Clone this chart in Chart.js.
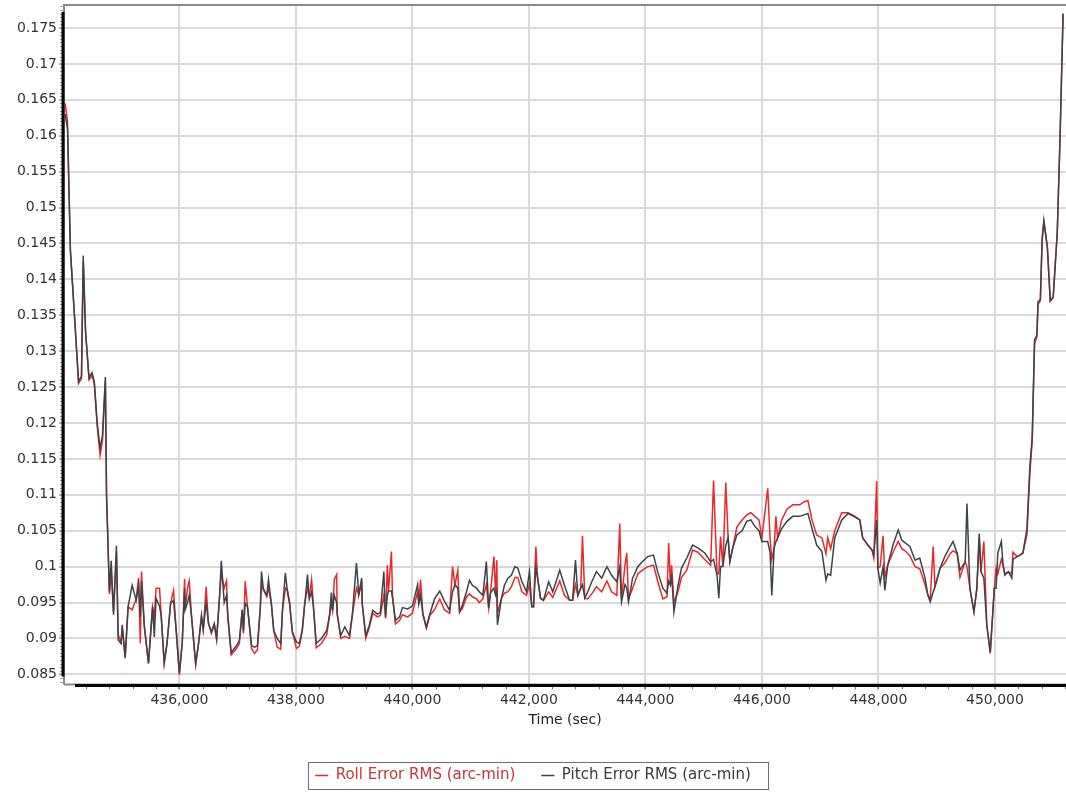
<!DOCTYPE html>
<html>
<head>
<meta charset="utf-8">
<title>Roll / Pitch Error RMS</title>
<script src="https://cdn.jsdelivr.net/npm/chart.js@4.4.1/dist/chart.umd.min.js"></script>
<style>
  html, body { margin: 0; padding: 0; background: #fff; }
  #wrap { width: 1066px; height: 794px; }
</style>
</head>
<body>
<div id="wrap"><canvas id="rmsChart" width="1066" height="794"></canvas></div>
<script>
// time stamps (sec)
const timeSec = [
  434040, 434080, 434130, 434200, 434270, 434320, 434350, 434390, 434450, 434500,
  434540, 434590, 434640, 434680, 434730, 434750, 434800, 434830, 434870, 434920,
  434950, 435000, 435020, 435070, 435120, 435190, 435260, 435300, 435330, 435350,
  435400, 435470, 435540, 435570, 435600, 435660, 435690, 435740, 435790, 435850,
  435900, 435950, 436000, 436050, 436090, 436100, 436140, 436170, 436210, 436280,
  436330, 436380, 436410, 436460, 436500, 436550, 436600, 436640, 436690, 436720,
  436770, 436810, 436830, 436890, 436980, 437030, 437080, 437100, 437130, 437170,
  437240, 437290, 437340, 437390, 437410, 437440, 437500, 437530, 437580, 437620,
  437680, 437740, 437770, 437820, 437860, 437890, 437940, 438010, 438060, 438110,
  438150, 438200, 438230, 438270, 438300, 438350, 438440, 438530, 438580, 438610,
  438630, 438660, 438700, 438710, 438770, 438840, 438920, 438970, 439040, 439080,
  439130, 439140, 439200, 439260, 439320, 439400, 439450, 439510, 439540, 439570,
  439590, 439640, 439660, 439710, 439780, 439830, 439920, 440000, 440090, 440110,
  440140, 440180, 440240, 440300, 440380, 440470, 440550, 440640, 440690, 440730,
  440780, 440810, 440860, 440930, 440980, 441030, 441100, 441150, 441210, 441270,
  441310, 441340, 441400, 441430, 441450, 441460, 441530, 441580, 441640, 441700,
  441760, 441810, 441880, 441960, 442010, 442050, 442080, 442120, 442150, 442200,
  442250, 442340, 442410, 442530, 442610, 442700, 442750, 442800, 442840, 442890,
  442920, 442960, 443010, 443080, 443160, 443250, 443340, 443420, 443510, 443560,
  443590, 443650, 443680, 443710, 443780, 443870, 443950, 444040, 444140, 444210,
  444300, 444370, 444400, 444430, 444450, 444490, 444560, 444620, 444710, 444810,
  444900, 445020, 445120, 445170, 445230, 445260, 445290, 445330, 445380, 445420,
  445450, 445500, 445570, 445660, 445740, 445810, 445880, 445950, 446000, 446100,
  446140, 446170, 446210, 446240, 446270, 446340, 446430, 446530, 446650, 446720,
  446790, 446860, 446940, 447030, 447100, 447130, 447180, 447250, 447370, 447480,
  447600, 447680, 447730, 447820, 447890, 447920, 447970, 447990, 448030, 448080,
  448110, 448160, 448250, 448340, 448400, 448460, 448540, 448630, 448710, 448800,
  448850, 448890, 448940, 448970, 449060, 449140, 449230, 449280, 449350, 449400,
  449490, 449520, 449570, 449640, 449690, 449730, 449760, 449810, 449860, 449920,
  449950, 449990, 450020, 450050, 450110, 450140, 450170, 450230, 450290, 450310,
  450380, 450430, 450480, 450550, 450600, 450640, 450680, 450720, 450740, 450780,
  450810, 450840, 450900, 450950, 451000, 451070, 451120, 451170
];

// Roll Error RMS (arc-min)
const rollRms = [
  0.1645, 0.1620, 0.1440, 0.1348, 0.1255, 0.1262, 0.1425, 0.1326, 0.1260, 0.1266,
  0.1255, 0.1195, 0.1155, 0.1175, 0.1258, 0.1100, 0.0962, 0.0995, 0.0937, 0.1020,
  0.0905, 0.0895, 0.0915, 0.0872, 0.0944, 0.0940, 0.0955, 0.0984, 0.0893, 0.0993,
  0.0916, 0.0865, 0.0944, 0.0930, 0.0970, 0.0970, 0.0930, 0.0865, 0.0893, 0.0949,
  0.0967, 0.0907, 0.0849, 0.0893, 0.0983, 0.0940, 0.0970, 0.0980, 0.0930, 0.0863,
  0.0893, 0.0930, 0.0912, 0.0972, 0.0921, 0.0907, 0.0919, 0.0898, 0.0958, 0.0990,
  0.0970, 0.0980, 0.0930, 0.0877, 0.0886, 0.0893, 0.0940, 0.0907, 0.0980, 0.0944,
  0.0886, 0.0879, 0.0884, 0.0943, 0.0975, 0.0968, 0.0959, 0.0970, 0.0948, 0.0911,
  0.0888, 0.0885, 0.0939, 0.0970, 0.0966, 0.0952, 0.0909, 0.0886, 0.0889, 0.0911,
  0.0948, 0.0970, 0.0957, 0.0982, 0.0948, 0.0887, 0.0893, 0.0905, 0.0932, 0.0950,
  0.0939, 0.0982, 0.0989, 0.0934, 0.0900, 0.0903, 0.0900, 0.0932, 0.0970, 0.0961,
  0.0975, 0.0948, 0.0900, 0.0915, 0.0935, 0.0930, 0.0932, 0.0960, 0.0928, 0.1002,
  0.0966, 0.1021, 0.0957, 0.0920, 0.0925, 0.0933, 0.0930, 0.0935, 0.0965, 0.0948,
  0.0982, 0.0934, 0.0914, 0.0932, 0.0940, 0.0955, 0.0940, 0.0935, 0.1000, 0.0974,
  0.0995, 0.0937, 0.0942, 0.0958, 0.0962, 0.0958, 0.0955, 0.0950, 0.0955, 0.0975,
  0.0942, 0.0963, 0.1014, 0.0960, 0.1009, 0.0935, 0.0956, 0.0963, 0.0965, 0.0972,
  0.0985, 0.0985, 0.0965, 0.0960, 0.0975, 0.0944, 0.0944, 0.1028, 0.0984, 0.0956,
  0.0953, 0.0965, 0.0957, 0.0980, 0.0960, 0.0953, 0.0953, 0.0975, 0.0960, 0.0970,
  0.1043, 0.0956, 0.0955, 0.0962, 0.0972, 0.0965, 0.0980, 0.0965, 0.0960, 0.1060,
  0.0955, 0.1002, 0.1019, 0.0955, 0.0970, 0.0990, 0.0995, 0.1000, 0.1002, 0.0980,
  0.0955, 0.0958, 0.1033, 0.0974, 0.1002, 0.0950, 0.0965, 0.0985, 0.0995, 0.1023,
  0.1020, 0.1010, 0.1002, 0.1120, 0.0990, 0.0990, 0.1042, 0.1000, 0.1117, 0.1040,
  0.1007, 0.1026, 0.1055, 0.1065, 0.1072, 0.1075, 0.1070, 0.1065, 0.1040, 0.1109,
  0.1040, 0.1010, 0.1026, 0.1070, 0.1040, 0.1065, 0.1080, 0.1086, 0.1086, 0.1090,
  0.1092, 0.1065, 0.1044, 0.1040, 0.1018, 0.1040, 0.1025, 0.1050, 0.1075, 0.1075,
  0.1070, 0.1065, 0.1040, 0.1030, 0.1023, 0.1012, 0.1119, 0.0998, 0.1000, 0.1043,
  0.0985, 0.1002, 0.1020, 0.1035, 0.1025, 0.1022, 0.1015, 0.1000, 0.0997, 0.0975,
  0.0960, 0.0955, 0.1028, 0.0972, 0.0998, 0.1005, 0.1018, 0.1022, 0.1019, 0.0985,
  0.1007, 0.1000, 0.0970, 0.0937, 0.0970, 0.1040, 0.0993, 0.1035, 0.0919, 0.0879,
  0.0919, 0.0970, 0.0998, 0.0990, 0.1010, 0.1002, 0.0990, 0.0993, 0.0990, 0.1020,
  0.1014, 0.1016, 0.1019, 0.1045, 0.1130, 0.1175, 0.1310, 0.1320, 0.1365, 0.1370,
  0.1455, 0.1480, 0.1445, 0.1370, 0.1375, 0.1465, 0.1604, 0.1770
];

// Pitch Error RMS (arc-min)
const pitchRms = [
  0.1630, 0.1610, 0.1440, 0.1350, 0.1258, 0.1265, 0.1433, 0.1328, 0.1263, 0.1270,
  0.1258, 0.1200, 0.1165, 0.1182, 0.1264, 0.1100, 0.0965, 0.1008, 0.0933, 0.1029,
  0.0898, 0.0893, 0.0919, 0.0874, 0.0944, 0.0974, 0.0953, 0.0975, 0.0930, 0.0980,
  0.0916, 0.0866, 0.0944, 0.0902, 0.0956, 0.0945, 0.0930, 0.0866, 0.0895, 0.0949,
  0.0953, 0.0907, 0.0852, 0.0895, 0.0970, 0.0940, 0.0950, 0.0960, 0.0930, 0.0865,
  0.0893, 0.0932, 0.0912, 0.0950, 0.0921, 0.0909, 0.0921, 0.0900, 0.0958, 0.1008,
  0.0950, 0.0960, 0.0935, 0.0880, 0.0890, 0.0897, 0.0940, 0.0910, 0.0949, 0.0944,
  0.0890, 0.0888, 0.0890, 0.0943, 0.0993, 0.0970, 0.0959, 0.0982, 0.0948, 0.0911,
  0.0900, 0.0893, 0.0939, 0.0991, 0.0962, 0.0950, 0.0909, 0.0895, 0.0893, 0.0911,
  0.0945, 0.0989, 0.0955, 0.0965, 0.0945, 0.0893, 0.0900, 0.0911, 0.0934, 0.0964,
  0.0939, 0.0960, 0.0950, 0.0934, 0.0904, 0.0916, 0.0904, 0.0934, 0.1005, 0.0961,
  0.0984, 0.0948, 0.0904, 0.0918, 0.0939, 0.0934, 0.0936, 0.0993, 0.0930, 0.0960,
  0.0966, 0.0966, 0.0957, 0.0925, 0.0930, 0.0943, 0.0941, 0.0945, 0.0975, 0.0948,
  0.0960, 0.0934, 0.0916, 0.0934, 0.0955, 0.0966, 0.0952, 0.0939, 0.0965, 0.0975,
  0.0970, 0.0937, 0.0947, 0.0965, 0.0981, 0.0974, 0.0970, 0.0965, 0.0960, 0.1007,
  0.0942, 0.0963, 0.0970, 0.0960, 0.0965, 0.0919, 0.0956, 0.0974, 0.0984, 0.0988,
  0.1000, 0.0998, 0.0979, 0.0965, 0.0993, 0.0944, 0.0944, 0.1000, 0.0984, 0.0956,
  0.0953, 0.0979, 0.0965, 0.0995, 0.0974, 0.0953, 0.0953, 0.1009, 0.0960, 0.0970,
  0.0975, 0.0956, 0.0965, 0.0979, 0.0993, 0.0984, 0.1000, 0.0988, 0.0979, 0.1000,
  0.0951, 0.0975, 0.0970, 0.0951, 0.0984, 0.1000, 0.1007, 0.1014, 0.1016, 0.0993,
  0.0970, 0.0963, 0.0980, 0.0974, 0.0990, 0.0937, 0.0974, 0.0998, 0.1012, 0.1030,
  0.1026, 0.1019, 0.1007, 0.1010, 0.0988, 0.0956, 0.1000, 0.1000, 0.1030, 0.1040,
  0.1007, 0.1026, 0.1044, 0.1050, 0.1063, 0.1065, 0.1056, 0.1050, 0.1035, 0.1035,
  0.1020, 0.0960, 0.1026, 0.1035, 0.1040, 0.1053, 0.1063, 0.1070, 0.1070, 0.1072,
  0.1074, 0.1053, 0.1030, 0.1021, 0.0981, 0.0990, 0.0988, 0.1040, 0.1065, 0.1074,
  0.1069, 0.1065, 0.1040, 0.1030, 0.1023, 0.1016, 0.1065, 0.0998, 0.0977, 0.1000,
  0.0967, 0.1002, 0.1030, 0.1051, 0.1037, 0.1033, 0.1028, 0.1009, 0.1012, 0.0984,
  0.0960, 0.0951, 0.0965, 0.0972, 0.0998, 0.1014, 0.1028, 0.1035, 0.1019, 0.0995,
  0.1007, 0.1088, 0.0970, 0.0937, 0.0970, 0.1046, 0.0993, 0.0984, 0.0919, 0.0881,
  0.0919, 0.0970, 0.0970, 0.1019, 0.1035, 0.1002, 0.0988, 0.0993, 0.0984, 0.1010,
  0.1014, 0.1016, 0.1019, 0.1053, 0.1140, 0.1180, 0.1316, 0.1322, 0.1369, 0.1372,
  0.1455, 0.1482, 0.1445, 0.1370, 0.1375, 0.1465, 0.1604, 0.1770
];

const xTickValues = [436000, 438000, 440000, 442000, 444000, 446000, 448000, 450000];
const yTickValues = [0.085, 0.09, 0.095, 0.1, 0.105, 0.11, 0.115, 0.12, 0.125, 0.13,
                     0.135, 0.14, 0.145, 0.15, 0.155, 0.16, 0.165, 0.17, 0.175];
const seriesLabels = ['Roll Error RMS (arc-min)', 'Pitch Error RMS (arc-min)'];
const seriesColors = ['#e8282c', '#3b4449'];
const legendTextColors = ['#c8343a', '#3a3a3a'];

const FONT = "'DejaVu Sans', Verdana, sans-serif";

function fmtThousands(v) {
  return String(Math.round(v)).replace(/\B(?=(\d{3})+(?!\d))/g, ',');
}

// frame, offset black axes, minor ticks and the boxed legend
const framePlugin = {
  id: 'frame',
  beforeDatasetsDraw(chart) {
    const { ctx, chartArea: a } = chart;
    ctx.save();
    ctx.strokeStyle = '#8a8a8a';
    ctx.lineWidth = 2;
    ctx.beginPath();
    ctx.moveTo(a.left, a.bottom);
    ctx.lineTo(a.left, a.top);
    ctx.lineTo(a.right, a.top);
    ctx.moveTo(a.left, a.bottom);
    ctx.lineTo(a.right, a.bottom);
    ctx.stroke();
    ctx.restore();
  },
  afterDraw(chart) {
    const { ctx, chartArea: a, scales } = chart;
    const xs = scales.x, ys = scales.y;
    ctx.save();
    // minor ticks
    ctx.strokeStyle = '#777';
    ctx.lineWidth = 1;
    ctx.beginPath();
    for (let v = Math.ceil(xs.min / 400) * 400; v <= xs.max; v += 400) {
      const px = Math.round(xs.getPixelForValue(v)) + 0.5;
      ctx.moveTo(px, a.bottom);
      ctx.lineTo(px, a.bottom + 5);
    }
    ctx.stroke();
    ctx.strokeStyle = '#a0a0a0';
    ctx.beginPath();
    for (let v = Math.ceil(ys.min / 0.0005) * 0.0005; v <= ys.max; v += 0.0005) {
      const py = Math.round(ys.getPixelForValue(v)) + 0.5;
      ctx.moveTo(a.left - 4, py);
      ctx.lineTo(a.left - 1, py);
    }
    ctx.stroke();
    // heavy axis lines
    ctx.strokeStyle = '#000';
    ctx.lineWidth = 3;
    ctx.beginPath();
    ctx.moveTo(a.left - 1, a.top + 7);
    ctx.lineTo(a.left - 1, a.bottom - 8);
    ctx.moveTo(a.left + 11, a.bottom + 1);
    ctx.lineTo(a.right, a.bottom + 1);
    ctx.stroke();
    // legend frame
    const boxes = chart.legend && chart.legend.legendHitBoxes;
    if (boxes && boxes.length) {
      const l = Math.min(...boxes.map(b => b.left));
      const r = Math.max(...boxes.map(b => b.left + b.width));
      const t = Math.min(...boxes.map(b => b.top));
      const btm = Math.max(...boxes.map(b => b.top + b.height));
      ctx.strokeStyle = '#6e6e6e';
      ctx.lineWidth = 1;
      ctx.strokeRect(Math.round(l - 7) + 0.5, Math.round(t - 6) + 0.5,
                     Math.round(r - l + 24), Math.round(btm - t + 12));
    }
    ctx.restore();
  }
};

const ctx = document.getElementById('rmsChart').getContext('2d');
new Chart(ctx, {
  type: 'line',
  data: {
    datasets: [
      {
        label: seriesLabels[0],
        data: timeSec.map((t, i) => ({ x: t, y: rollRms[i] })),
        borderColor: seriesColors[0],
        backgroundColor: seriesColors[0],
        borderWidth: 1.5,
        order: 1
      },
      {
        label: seriesLabels[1],
        data: timeSec.map((t, i) => ({ x: t, y: pitchRms[i] })),
        borderColor: seriesColors[1],
        backgroundColor: seriesColors[1],
        borderWidth: 1.5,
        order: 0
      }
    ]
  },
  plugins: [framePlugin],
  options: {
    responsive: false,
    animation: false,
    events: [],
    elements: {
      point: { radius: 0 },
      line: { tension: 0 }
    },
    layout: {
      padding: { top: 5, right: 0, left: 0, bottom: 1 }
    },
    plugins: {
      tooltip: { enabled: false },
      legend: {
        position: 'bottom',
        labels: {
          usePointStyle: true,
          pointStyle: 'line',
          pointStyleWidth: 13,
          boxWidth: 13,
          boxHeight: 12,
          padding: 26,
          font: { family: FONT, size: 15 },
          generateLabels(chart) {
            return [0, 1].map(i => {
              const ds = chart.data.datasets[i];
              return {
                text: ds.label,
                fontColor: legendTextColors[i],
                strokeStyle: ds.borderColor,
                fillStyle: ds.borderColor,
                lineWidth: 1.5,
                pointStyle: 'line',
                hidden: false,
                datasetIndex: i
              };
            });
          }
        }
      }
    },
    scales: {
      x: {
        type: 'linear',
        min: 434020,
        max: 451220,
        afterBuildTicks(scale) {
          scale.ticks = xTickValues.map(v => ({ value: v }));
        },
        grid: {
          color: '#d9d9d9',
          lineWidth: 2,
          tickLength: 5,
          tickColor: '#666',
          tickWidth: 1
        },
        border: { display: false },
        ticks: {
          color: '#333',
          padding: 3,
          maxRotation: 0,
          font: { family: FONT, size: 14 },
          callback: v => fmtThousands(v)
        },
        title: {
          display: true,
          text: 'Time (sec)',
          color: '#222',
          font: { family: FONT, size: 14 },
          padding: { top: 0, bottom: 13 }
        }
      },
      y: {
        type: 'linear',
        min: 0.0836,
        max: 0.1782,
        afterBuildTicks(scale) {
          scale.ticks = yTickValues.map(v => ({ value: v }));
        },
        afterFit(scale) {
          scale.width = 64;
          scale.paddingTop = 0;
          scale.paddingBottom = 0;
        },
        grid: {
          color: '#d9d9d9',
          lineWidth: 2,
          tickLength: 5,
          tickColor: '#666',
          tickWidth: 1
        },
        border: { display: false },
        ticks: {
          color: '#333',
          padding: 2,
          font: { family: FONT, size: 14 },
          callback: v => String(parseFloat(v.toFixed(3)))
        }
      }
    }
  }
});
</script>
</body>
</html>
